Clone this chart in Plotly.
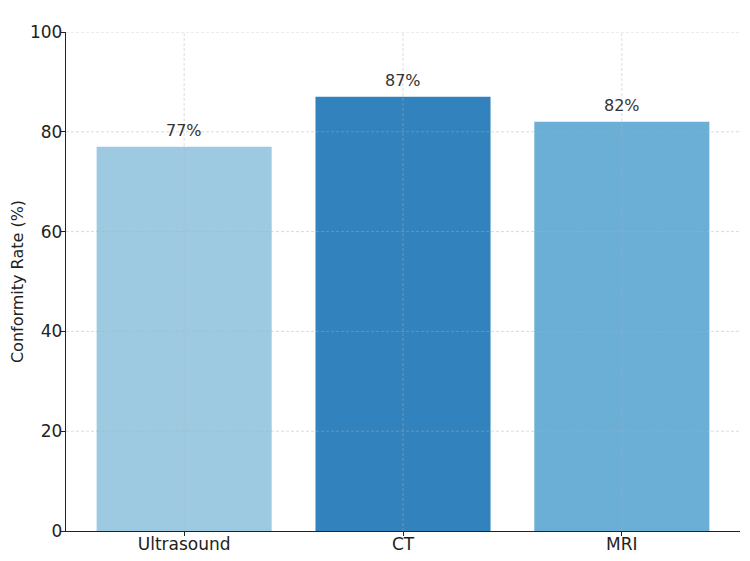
import plotly.graph_objects as go

# data
modalities = ['Ultrasound', 'CT', 'MRI']
conformity = [77, 87, 82]
bar_colors = ['#9ecae1', '#3182bd', '#6baed6']
y_ticks = [0, 20, 40, 60, 80, 100]

FONT = 'DejaVu Sans'
GRID = 'rgba(176,176,176,0.45)'

fig = go.Figure(go.Bar(
    x=modalities, y=conformity, marker_color=bar_colors, marker_line_width=0,
    width=0.8, hoverinfo='x+y',
))

# value labels above each bar
annotations = [dict(x=m, y=v, text=f'{v}%', showarrow=False, yanchor='middle', yshift=16,
                    font=dict(family=FONT, size=16, color='#333333'))
               for m, v in zip(modalities, conformity)]

# dashed grid drawn over the bars, like the source
shapes = [dict(type='line', xref='paper', yref='y', x0=0, x1=1, y0=t, y1=t,
               line=dict(color=GRID, width=1, dash='3px,2px'), layer='above')
          for t in y_ticks[1:]]
shapes += [dict(type='line', xref='x', yref='paper', x0=m, x1=m, y0=0, y1=1,
                line=dict(color=GRID, width=1, dash='3px,2px'), layer='above')
           for m in modalities]

# page body adds an 8px offset, so the figure is a bit smaller
fig.update_layout(
    template='none',
    width=742, height=553, plot_bgcolor='white', paper_bgcolor='white',
    margin=dict(l=58, r=10, t=24, b=30), showlegend=False,
    shapes=shapes, annotations=annotations,
    font=dict(family=FONT, size=17, color='#222222'),
    xaxis=dict(range=[-0.54, 2.54], showgrid=False, showline=True, linecolor='#222222',
               linewidth=1.3, ticks='outside', ticklen=4, tickcolor='#222222',
               tickfont=dict(size=17), automargin=False, ticklabelstandoff=-7),
    yaxis=dict(range=[0, 100], tickvals=y_ticks, showgrid=False, zeroline=False,
               showline=True, linecolor='#222222', linewidth=1.3, ticks='outside',
               ticklen=4, tickcolor='#222222', tickfont=dict(size=17), automargin=False,
               ticklabelstandoff=-5,
               title=dict(text='Conformity Rate (%)', font=dict(size=16), standoff=9)),
)

fig.write_html('out.html')
